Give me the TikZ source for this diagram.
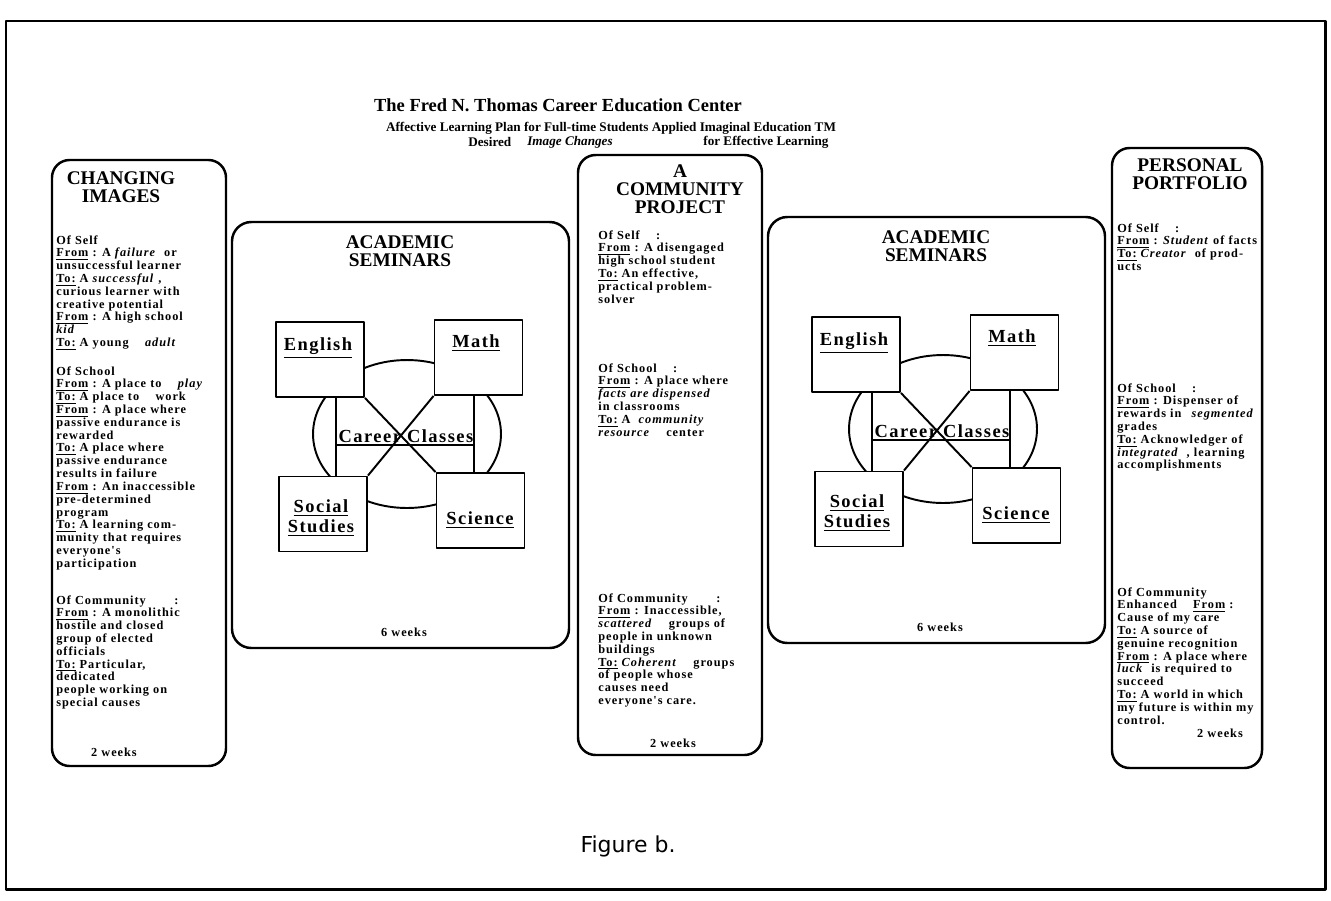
\documentclass[tikz,border=0pt]{standalone}
\usepackage{fontspec}
\setmainfont{Liberation Serif}
\newfontfamily\headfont{Liberation Serif}
\newfontfamily\bodyfont[LetterSpace=8]{Liberation Serif}
\newfontfamily\slabfont[LetterSpace=8]{Liberation Serif}
\newfontfamily\capfont{DejaVu Sans}
\usepackage{tikz}
\usetikzlibrary{positioning}
\usetikzlibrary{calc}
\usetikzlibrary{shapes.geometric}

\newcommand{\fromlbl}{\underline{From}}
\newcommand{\tolbl}{\underline{To:}}

\tikzset{
  colbox/.style={line width=1.4pt, rounded corners=10pt},
  semibox/.style={line width=1.4pt, rounded corners=11pt},
  subjbox/.style={draw, fill=white, line width=1.1pt, minimum width=1.76cm, minimum height=1.5cm, inner sep=0pt},
  subjtxt/.style={font=\slabfont\bfseries\fontsize{10.5}{11}\selectfont, align=center, inner sep=0pt},
  headtxt/.style={font=\headfont\bfseries\fontsize{11}{10.2}\selectfont, align=center, inner sep=0pt},
  blk/.style={font=\bodyfont\bfseries\fontsize{7}{7.3}\selectfont, align=left, anchor=north west, inner sep=0pt},
  weeks/.style={font=\bodyfont\bfseries\fontsize{7}{8}\selectfont, inner sep=0pt},
  ttltxt/.style={font=\headfont\bfseries\fontsize{7.5}{9}\selectfont, inner sep=0pt}
}

\begin{document}
\begin{tikzpicture}[x=0.02cm, y=-0.02cm, line join=round]
\useasboundingbox (0,0) rectangle (1331,900);
\draw[line width=1.7pt] (6,21) rectangle (1325,889);

% title
\node[font=\headfont\bfseries\fontsize{10.5}{12}\selectfont, inner sep=0pt] (ttl) at (558,105) {The Fred N. Thomas Career Education Center};
\node[ttltxt] (sub) at (611,128) {Affective Learning Plan for Full-time Students Applied Imaginal Education TM};
\node[ttltxt, anchor=west] (des) at (468,142) {Desired};
\node[ttltxt, anchor=west] (img) at (527,142) {\textit{Image Changes}};
\node[ttltxt, anchor=west] (eff) at (703,142) {for Effective Learning};

% changing images
\draw[colbox] (52,160) rectangle (226,766);
\node[headtxt] (chg) at (121,187) {CHANGING\\IMAGES};
\node[blk] (chgself) at (56,235) {Of Self\\
\fromlbl{} : A \textit{failure} \ or\\
unsuccessful learner\\
\tolbl{} A \textit{successful} ,\\
curious learner with\\
creative potential\\
\fromlbl{} : A high school\\
\textit{kid}\\
\tolbl{} A young \quad \textit{adult}};
\node[blk] (chgschool) at (56,366) {Of School\\
\fromlbl{} : A place to \quad \textit{play}\\
\tolbl{} A place to \quad work\\
\fromlbl{} : A place where\\
passive endurance is\\
rewarded\\
\tolbl{} A place where\\
passive endurance\\
results in failure\\
\fromlbl{} : An inaccessible\\
pre-determined\\
program\\
\tolbl{} A learning com-\\
munity that requires\\
everyone's\\
participation};
\node[blk] (chgcomm) at (56,595) {Of Community \qquad :\\
\fromlbl{} : A monolithic\\
hostile and closed\\
group of elected\\
officials\\
\tolbl{} Particular,\\
dedicated\\
people working on\\
special causes};
\node[weeks] (chgwk) at (114,752) {2 weeks};

% community project
\draw[colbox] (578,155) rectangle (762,755);
\node[headtxt] (proj) at (680,189) {A\\COMMUNITY\\PROJECT};
\node[blk] (projself) at (598,230) {Of Self \quad :\\
\fromlbl{} : A disengaged\\
high school student\\
\tolbl{} An effective,\\
practical problem-\\
solver};
\node[blk] (projschool) at (598,363) {Of School \quad :\\
\fromlbl{} : A place where\\
\textit{facts are dispensed}\\
in classrooms\\
\tolbl{} A \ \textit{community}\\
\textit{resource} \quad center};
\node[blk] (projcomm) at (598,593) {Of Community \qquad :\\
\fromlbl{} : Inaccessible,\\
\textit{scattered} \quad groups of\\
people in unknown\\
buildings\\
\tolbl{} \textit{Coherent} \quad groups\\
of people whose\\
causes need\\
everyone's care.};
\node[weeks] (projwk) at (673,743) {2 weeks};

% personal portfolio
\draw[colbox] (1112,148) rectangle (1262,768);
\node[headtxt] (port) at (1190,174) {PERSONAL\\PORTFOLIO};
\node[blk] (portself) at (1117,223) {Of Self \quad :\\
\fromlbl{} : \textit{Student} of facts\\
\tolbl{} \textit{Creator} \ of prod-\\
ucts};
\node[blk] (portschool) at (1117,383) {Of School \quad :\\
\fromlbl{} : Dispenser of\\
rewards in \enspace \textit{segmented}\\
grades\\
\tolbl{} Acknowledger of\\
\textit{integrated} \ , learning\\
accomplishments};
\node[blk] (portcomm) at (1117,587) {Of Community\\
Enhanced \quad \fromlbl{} :\\
Cause of my care\\
\tolbl{} A source of\\
genuine recognition\\
\fromlbl{} : A place where\\
\textit{luck} \ is required to\\
succeed\\
\tolbl{} A world in which\\
my future is within my\\
control.};
\node[weeks] (portwk) at (1220,733) {2 weeks};

% academic seminars
\foreach \i/\sx/\sy in {1/232/222, 2/768/217} {
\begin{scope}[shift={(\sx,\sy)}]
\draw[semibox] (0,0) rectangle (337,426);
\node[headtxt] (acad\i) at (168,29) {ACADEMIC\\SEMINARS};
\node[draw, ellipse, line width=1.1pt, minimum width=3.76cm, minimum height=2.96cm] (ring\i) at (175,212) {};
\coordinate (vl\i) at (104,223);
\coordinate (vr\i) at (242,223);
\node[subjbox] (eng\i) at (88,137.5) {};
\node[subjbox] (mat\i) at (246.5,135.5) {};
\node[subjbox] (soc\i) at (91,292) {};
\node[subjbox] (sci\i) at (248.5,288.5) {};
\draw[line width=1.1pt] (eng\i.south east) -- (sci\i.north west);
\draw[line width=1.1pt] (mat\i.south west) -- (soc\i.north east);
\draw[line width=1.1pt] (vl\i |- eng\i.south) -- (vl\i |- soc\i.north);
\draw[line width=1.1pt] (vr\i |- mat\i.south) -- (vr\i |- sci\i.north);
\draw[line width=1.1pt] (vl\i) -- (vr\i);
\node[subjtxt] (engt\i) at (86,126) {\underline{English}};
\node[subjtxt] (matt\i) at (244,121) {\underline{Math}};
\node[subjtxt] (soct\i) at (89,296) {\underline{Social}\\\underline{Studies}};
\node[subjtxt] (scit\i) at (248,298) {\underline{Science}};
\node[subjtxt] (cc\i) at (174,214) {Career Classes};
\node[weeks] (wk\i) at (172,410) {6 weeks};
\end{scope}
}

\node[font=\capfont\fontsize{12.5}{14}\selectfont, inner sep=0pt] (fig) at (628,846) {Figure b.};
\end{tikzpicture}
\end{document}
